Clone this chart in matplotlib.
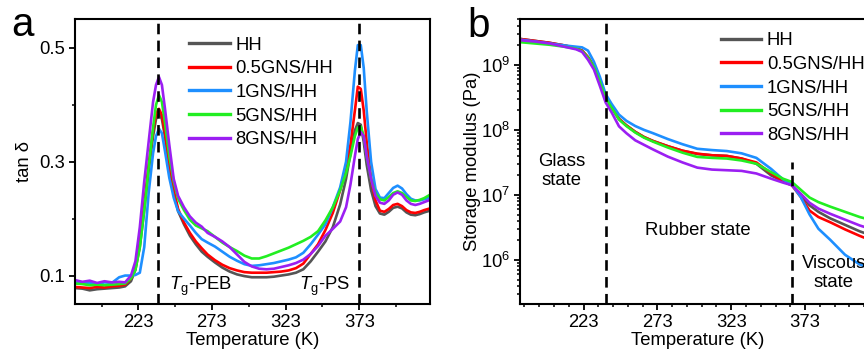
import matplotlib
matplotlib.use("Agg")
import matplotlib.pyplot as plt
from matplotlib.ticker import FixedLocator, MultipleLocator, LogLocator, NullFormatter
import numpy as np

plt.rcParams["font.family"] = ["Liberation Sans", "DejaVu Sans"]
plt.rcParams["mathtext.fontset"] = "custom"
plt.rcParams["mathtext.rm"] = "Liberation Sans"
plt.rcParams["mathtext.it"] = "Liberation Sans:italic"
plt.rcParams["mathtext.bf"] = "Liberation Sans:bold"

labels = ["HH", "0.5GNS/HH", "1GNS/HH", "5GNS/HH", "8GNS/HH"]
colors = ["#555555", "#ff0000", "#1e8fff", "#22ee22", "#9b1ff2"]

# panel a: tan delta vs temperature
temp_a = [180, 185, 190, 195, 200, 205, 210, 214, 218, 221, 224, 227, 230, 233, 235, 237,
          239, 241, 244, 247, 250, 254, 258, 262, 266, 270, 275, 280, 285, 290, 295, 300,
          305, 310, 315, 320, 325, 330, 335, 340, 345, 350, 355, 360, 364, 367, 370, 372,
          374, 376, 378, 381, 384, 387, 390, 393, 396, 399, 402, 405, 408, 411, 414, 417, 421]

tan_hh = [.078, .077, .074, .076, .077, .078, .079, .081, .090, .110, .150, .215, .285, .345, .375, .385,
          .375, .345, .290, .245, .213, .190, .170, .155, .142, .133, .123, .114, .107, .102, .099, .097,
          .097, .097, .098, .100, .102, .105, .111, .125, .142, .160, .185, .225, .270, .315, .355, .368,
          .365, .335, .295, .250, .222, .209, .207, .212, .219, .221, .218, .211, .207, .206, .208, .211, .214]
tan_05 = [.080, .079, .078, .080, .079, .081, .082, .084, .095, .115, .160, .225, .295, .355, .385, .393,
          .382, .352, .295, .250, .217, .193, .175, .160, .148, .137, .127, .119, .113, .109, .106, .105,
          .105, .105, .106, .107, .109, .113, .121, .138, .155, .180, .210, .250, .290, .330, .390, .432,
          .428, .390, .335, .270, .232, .214, .212, .217, .224, .226, .222, .215, .211, .210, .212, .215, .218]
tan_1 = [.088, .086, .087, .085, .088, .087, .097, .100, .100, .101, .105, .150, .245, .315, .345, .358,
         .350, .320, .272, .237, .213, .200, .188, .175, .164, .158, .151, .142, .133, .126, .120, .117,
         .118, .120, .122, .125, .128, .132, .140, .155, .172, .190, .220, .255, .300, .370, .460, .505,
         .505, .465, .390, .300, .252, .237, .236, .245, .254, .258, .253, .243, .235, .232, .232, .234, .237]
tan_5 = [.086, .085, .083, .084, .083, .084, .085, .086, .095, .110, .150, .215, .290, .360, .400, .417,
         .405, .370, .310, .265, .235, .215, .198, .188, .183, .178, .168, .158, .150, .143, .135, .130,
         .130, .134, .139, .144, .149, .155, .161, .168, .178, .197, .220, .250, .280, .310, .345, .360,
         .362, .345, .310, .270, .245, .234, .232, .238, .245, .248, .245, .238, .232, .231, .233, .236, .242]
tan_8 = [.092, .089, .091, .087, .090, .088, .089, .088, .100, .125, .185, .265, .335, .405, .435, .449,
         .435, .395, .330, .270, .240, .220, .204, .193, .186, .175, .168, .160, .150, .137, .124, .116,
         .112, .111, .112, .115, .118, .122, .128, .138, .152, .170, .182, .195, .220, .260, .310, .340,
         .352, .345, .310, .270, .240, .228, .226, .232, .242, .246, .242, .232, .226, .224, .226, .229, .233]

# panel b: storage modulus (log10 Pa) vs temperature
temp_b = [180, 190, 200, 210, 218, 222, 226, 230, 234, 238, 242, 247, 252, 258, 264, 270, 280,
          290, 300, 310, 320, 330, 340, 350, 358, 364, 370, 376, 382, 390, 400, 410, 420]

loge_hh = [9.40, 9.37, 9.34, 9.30, 9.26, 9.22, 9.12, 8.98, 8.75, 8.50, 8.35, 8.17, 8.07, 7.97, 7.89,
           7.83, 7.75, 7.68, 7.63, 7.61, 7.60, 7.56, 7.48, 7.30, 7.21, 7.15, 7.00, 6.84, 6.74, 6.64,
           6.54, 6.44, 6.36]
loge_05 = [9.40, 9.37, 9.34, 9.30, 9.26, 9.22, 9.12, 8.98, 8.75, 8.50, 8.35, 8.17, 8.07, 7.97, 7.89,
           7.83, 7.75, 7.68, 7.635, 7.61, 7.60, 7.56, 7.50, 7.33, 7.21, 7.15, 6.97, 6.76, 6.66, 6.58,
           6.47, 6.37, 6.28]
loge_1 = [9.39, 9.36, 9.33, 9.30, 9.28, 9.27, 9.22, 9.05, 8.82, 8.55, 8.40, 8.235, 8.14, 8.06, 8.00,
          7.95, 7.86, 7.78, 7.71, 7.69, 7.675, 7.64, 7.57, 7.40, 7.24, 7.16, 6.97, 6.70, 6.48, 6.31,
          6.08, 5.93, 5.85]
loge_5 = [9.35, 9.33, 9.31, 9.28, 9.25, 9.21, 9.11, 8.97, 8.74, 8.49, 8.34, 8.16, 8.06, 7.96, 7.88,
          7.82, 7.73, 7.65, 7.585, 7.57, 7.56, 7.53, 7.48, 7.35, 7.25, 7.20, 7.08, 6.96, 6.89, 6.82,
          6.74, 6.66, 6.60]
loge_8 = [9.38, 9.36, 9.33, 9.28, 9.24, 9.20, 9.08, 8.93, 8.68, 8.42, 8.27, 8.055, 7.95, 7.84, 7.77,
          7.70, 7.59, 7.50, 7.42, 7.39, 7.38, 7.37, 7.33, 7.25, 7.19, 7.15, 7.02, 6.88, 6.79, 6.71,
          6.62, 6.53, 6.46]

fig = plt.figure(figsize=(8.64, 3.53), dpi=100)
ax1 = fig.add_axes([0.0868, 0.1388, 0.4109, 0.806])
ax2 = fig.add_axes([0.6019, 0.1388, 0.412, 0.806])

fs = 13.3
for ax in (ax1, ax2):
    for s in ax.spines.values():
        s.set_linewidth(1.5)
    ax.tick_params(which="major", direction="out", length=4, width=1.3, labelsize=fs, pad=3)
    ax.tick_params(which="minor", direction="out", length=2.2, width=1.1)
    ax.set_xticks([223, 273, 323, 373])

dash = (0, (4, 2.4))

# ---- panel a
for vals, lab, c in zip([tan_hh, tan_05, tan_1, tan_5, tan_8], labels, colors):
    ax1.plot(temp_a, vals, color=c, lw=1.9, label=lab)
ax1.axvline(236.6, color="black", lw=1.9, ls=dash, zorder=5)
ax1.axvline(373, color="black", lw=1.9, ls=dash, zorder=5)
ax1.set_xlim(180, 421)
ax1.set_ylim(0.05, 0.55)
ax1.set_yticks([0.1, 0.3, 0.5])
ax1.set_yticklabels(["0.1", "0.3", "0.5"])
ax1.yaxis.set_minor_locator(MultipleLocator(0.1))
ax1.xaxis.set_minor_locator(FixedLocator(np.arange(198, 421, 25)))
ax1.set_xlabel("Temperature (K)", fontsize=fs)
ax1.set_ylabel("tan δ", fontsize=fs)
ax1.xaxis.set_label_coords(0.5, -0.1)
ax1.yaxis.set_label_coords(-0.118, 0.5)
ax1.text(265, 0.081, r"$T_\mathrm{g}$-PEB", fontsize=fs, ha="center", va="center")
ax1.text(349.5, 0.081, r"$T_\mathrm{g}$-PS", fontsize=fs, ha="center", va="center")
leg = ax1.legend(loc="upper left", bbox_to_anchor=(0.321, 0.94), frameon=False, fontsize=13.3,
                 handlelength=2.2, handletextpad=0.3, labelspacing=0.36, borderpad=0, borderaxespad=0)
for h in leg.get_lines():
    h.set_linewidth(2.4)
fig.text(11 / 864, 1 - 36 / 353, "a", fontsize=29, va="baseline", ha="left")

# ---- panel b
for vals, lab, c in zip([loge_hh, loge_05, loge_1, loge_5, loge_8], labels, colors):
    ax2.plot(temp_b, 10 ** np.array(vals), color=c, lw=1.9, label=lab)
ax2.set_yscale("log")
ax2.set_xlim(180, 421)
ax2.set_ylim(2.1e5, 5e9)
ax2.yaxis.set_major_locator(LogLocator(base=10, numticks=10))
ax2.yaxis.set_minor_locator(LogLocator(base=10, subs=np.arange(2, 10), numticks=20))
ax2.yaxis.set_minor_formatter(NullFormatter())
ax2.xaxis.set_minor_locator(FixedLocator(np.arange(183, 421, 10)))
ax2.axvline(238.4, color="black", lw=1.9, ls=dash, zorder=5)
ax2.axvline(364, ymax=0.5, color="black", lw=1.9, ls=dash, zorder=5)
ax2.set_xlabel("Temperature (K)", fontsize=fs)
ax2.set_ylabel("Storage modulus (Pa)", fontsize=fs)
ax2.xaxis.set_label_coords(0.5, -0.1)
ax2.yaxis.set_label_coords(-0.11, 0.5)
ax2.text(208.3, 10 ** 7.37, "Glass\nstate", fontsize=fs, ha="center", va="center", linespacing=1.15)
ax2.text(300.4, 10 ** 6.45, "Rubber state", fontsize=fs, ha="center", va="center")
ax2.text(392.4, 10 ** 5.8, "Viscous\nstate", fontsize=fs, ha="center", va="center", linespacing=1.15)
leg2 = ax2.legend(loc="upper left", bbox_to_anchor=(0.564, 0.955), frameon=False, fontsize=13.3,
                  handlelength=2.2, handletextpad=0.3, labelspacing=0.36, borderpad=0, borderaxespad=0)
for h in leg2.get_lines():
    h.set_linewidth(2.4)
fig.text(467 / 864, 1 - 36.7 / 353, "b", fontsize=29, va="baseline", ha="left")

fig.savefig("out.png", dpi=100)
